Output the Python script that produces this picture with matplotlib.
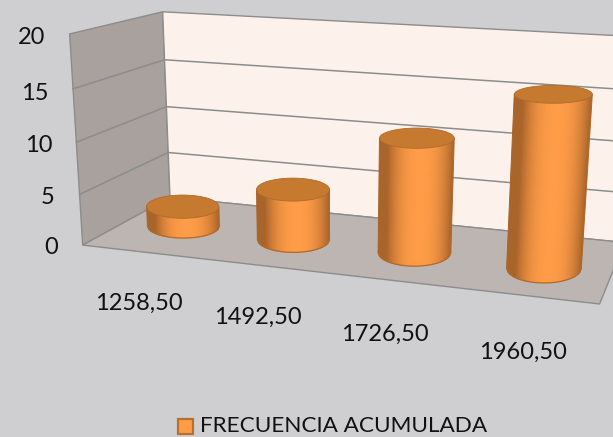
import numpy as np
import matplotlib
matplotlib.use("Agg")
import matplotlib.pyplot as plt
from matplotlib.patches import Polygon, Rectangle, Ellipse
from matplotlib.collections import PolyCollection
from matplotlib.colors import to_rgb

categories = ["1258,50", "1492,50", "1726,50", "1960,50"]
values = [2, 5, 11, 16]
y_ticks = [0, 5, 10, 15, 20]
series_name = "FRECUENCIA ACUMULADA"

plt.rcParams['font.family'] = ['Lato', 'DejaVu Sans']
BG = "#cfcfd1"; WALL = "#a8a19e"; FLOOR = "#bdb5b2"; BACK = "#fdf2eb"; GRID = "#8c8c8c"
C_MID = np.array(to_rgb("#ff9c47")); C_EDGE = np.array(to_rgb("#a9642a")); C_TOP = "#c67a30"; C_LINE = "#b06a2c"

# Camera calibration: (u across, value, w depth) -> screen pixels
calib = [((0,0,0),(82,246)),((0,5,0),(80,194)),((0,10,0),(76,143)),((0,15,0),(73,90)),((0,20,0),(69,35)),
         ((0,0,1),(170,196)),((0,5,1),(168,152)),((0,10,1),(167,106)),((0,15,1),(165,59)),((0,20,1),(163,12)),
         ((1,0,1),(624,246)),((1,5,1),(628,194)),((1,10,1),(631,143)),((1,15,1),(635,90)),((1,20,1),(640,35)),
         ((1,0,0),(601,300))]
A = []
for (u,v,w),(x,y) in calib:
    p = [u,v,w,1]
    A.append(p+[0,0,0,0]+[-x*c for c in p])
    A.append([0,0,0,0]+p+[-y*c for c in p])
P = np.linalg.svd(np.array(A,float))[2][-1].reshape(3,4)

def proj(u, v, w):
    u,v,w = np.broadcast_arrays(np.atleast_1d(u),np.atleast_1d(v),np.atleast_1d(w))
    h = P @ np.vstack([u,v,w,np.ones_like(u)])
    return np.column_stack([h[0]/h[2], h[1]/h[2]])

fig = plt.figure(figsize=(6.13,4.37), dpi=100, facecolor=BG)
ax = fig.add_axes([0,0,1,1]); ax.set_xlim(0,613); ax.set_ylim(437,0); ax.axis("off")

top = max(y_ticks)
def quad(pts, fc):
    ax.add_patch(Polygon(np.vstack([proj(*p) for p in pts]), closed=True, fc=fc, ec=GRID, lw=1.0, zorder=1))
quad([(0,0,0),(0,top,0),(0,top,1),(0,0,1)], WALL)
quad([(0,0,1),(0,top,1),(1,top,1),(1,0,1)], BACK)
quad([(0,0,0),(0,0,1),(1,0,1),(1,0,0)], FLOOR)
for t in y_ticks[1:-1]:
    s = np.vstack([proj(0,t,0),proj(0,t,1),proj(1,t,1)])
    ax.plot(s[:,0],s[:,1],color=GRID,lw=1.1,zorder=2)

ru, rw = 0.0685, 0.24
nudge = [0.0, -0.004, -0.004, 0.0]
depth = [0.5, 0.47, 0.47, 0.44]
circ = np.linspace(0,2*np.pi,145)

def ring(cu, cw, v):
    """Screen-level ellipse (centre, half axes) of the disc at height v."""
    pts = proj(cu+ru*np.cos(circ), v+0*circ, cw+rw*np.sin(circ))
    x0,x1 = pts[:,0].min(),pts[:,0].max(); y0,y1 = pts[:,1].min(),pts[:,1].max()
    return (x0+x1)/2,(y0+y1)/2,(x1-x0)/2,(y1-y0)/2

ss = np.linspace(-1,1,61)
for i,val in enumerate(values):
    cu = (i+.5)/len(values)+nudge[i]
    cw = depth[i]
    bx,by,ba,bh = ring(cu,cw,0)
    tx,ty,ta,th_ = ring(cu,cw,val)
    bp = np.column_stack([bx+ba*ss, by+bh*np.sqrt(1-ss**2)])
    tp = np.column_stack([tx+ta*ss, ty+th_*np.sqrt(1-ss**2)])
    polys=[];cols=[]
    for k in range(len(ss)-1):
        polys.append(np.array([bp[k],bp[k+1],tp[k+1],tp[k]]))
        m = 0.5*(ss[k]+ss[k+1])
        f = np.clip(abs(m-0.12)/0.88,0,1)**2.4
        c = C_MID*(1-f)+C_EDGE*f
        cols.append(c)
    col = PolyCollection(polys,facecolors=cols,edgecolors=cols,linewidths=0.7,zorder=3+i)
    col.set_snap(False)
    ax.add_collection(col)
    ax.plot(*bp.T,color=C_LINE,lw=0.9,zorder=3+i)
    ax.add_patch(Ellipse((tx,ty),2*ta,2*th_,fc=C_TOP,ec=C_LINE,lw=0.6,zorder=3+i))

label_xy = [(32,37),(35,92),(39,145),(48,197),(51,247)]
for t,(x,y) in zip(y_ticks[::-1],label_xy):
    ax.text(x,y+1,str(t),ha="center",va="center",fontsize=17,color="#111111")
cat_xy = [(139,302),(258,316),(385,333),(523,351)]
for c,(x,y) in zip(categories,cat_xy):
    ax.text(x,y+1,c,ha="center",va="center",fontsize=17,color="#111111")

ax.add_patch(Rectangle((178,419),15,15,fc="#ff9c47",ec="#b8702e",lw=1.6,zorder=5))
ax.text(200,426,series_name,ha="left",va="center",fontsize=16.2,color="#111111")
fig.savefig("out.png",dpi=100,facecolor=BG)
